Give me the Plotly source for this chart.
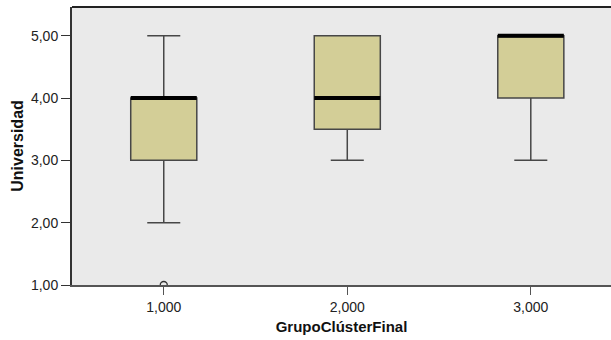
import plotly.graph_objects as go

# Box-plot statistics per cluster group
groups = [1, 2, 3]
q1 = [3.0, 3.5, 4.0]
median = [4.0, 4.0, 5.0]
q3 = [4.0, 5.0, 5.0]
lower_whisker = [2.0, 3.0, 3.0]
upper_whisker = [5.0, 5.0, 5.0]

# Outliers (group, value)
outlier_x = [1]
outlier_y = [1.0]

x_ticktext = ["1,000", "2,000", "3,000"]
y_tickvals = [1, 2, 3, 4, 5]
y_ticktext = ["1,00", "2,00", "3,00", "4,00", "5,00"]

BOX_W = 0.36
FILL = "#D3CE97"
EDGE = "#474747"

fig = go.Figure()

fig.add_trace(go.Box(
    x=groups, q1=q1, median=median, q3=q3,
    lowerfence=lower_whisker, upperfence=upper_whisker,
    width=BOX_W, whiskerwidth=0.5,
    fillcolor=FILL, line=dict(color=EDGE, width=1.5),
    boxpoints=False, showlegend=False, hoverinfo="skip",
))

# Heavy median bars drawn over each box
for g, m in zip(groups, median):
    fig.add_trace(go.Scatter(
        x=[g - BOX_W / 2, g + BOX_W / 2], y=[m, m], mode="lines",
        line=dict(color="black", width=4), showlegend=False, hoverinfo="skip",
    ))

fig.add_trace(go.Scatter(
    x=outlier_x, y=outlier_y, mode="markers",
    marker=dict(symbol="circle-open", size=7, color="#333333", line=dict(width=1.3)),
    showlegend=False, hoverinfo="skip",
))

# Frame line along the top of the plot area
fig.add_shape(type="line", xref="paper", yref="paper", x0=0, x1=1, y0=1, y1=1,
              line=dict(color="#222222", width=2))

fig.update_layout(
    width=611, height=340,
    margin=dict(l=72, r=0, t=7, b=55),
    paper_bgcolor="white", plot_bgcolor="#EAEAEA",
    font=dict(family="Liberation Sans, Arial, sans-serif", size=14, color="#222222"),
    xaxis=dict(
        range=[0.5, 3.437], tickvals=groups, ticktext=x_ticktext,
        showgrid=False, zeroline=False,
        showline=True, linecolor="#555555", linewidth=2,
        ticks="outside", ticklen=8, tickcolor="#555555", tickwidth=1,
        title=dict(text="<b>GrupoClústerFinal</b>", font=dict(size=15, color="#111111"), standoff=8),
    ),
    yaxis=dict(
        range=[1, 5.46], tickvals=y_tickvals, ticktext=y_ticktext,
        showgrid=False, zeroline=False,
        showline=True, linecolor="#333333", linewidth=2,
        ticks="outside", ticklen=9, tickcolor="#333333", tickwidth=1,
        title=dict(text="<b>Universidad</b>", font=dict(size=16, color="#111111"), standoff=3),
    ),
)

fig.write_html("out.html")
